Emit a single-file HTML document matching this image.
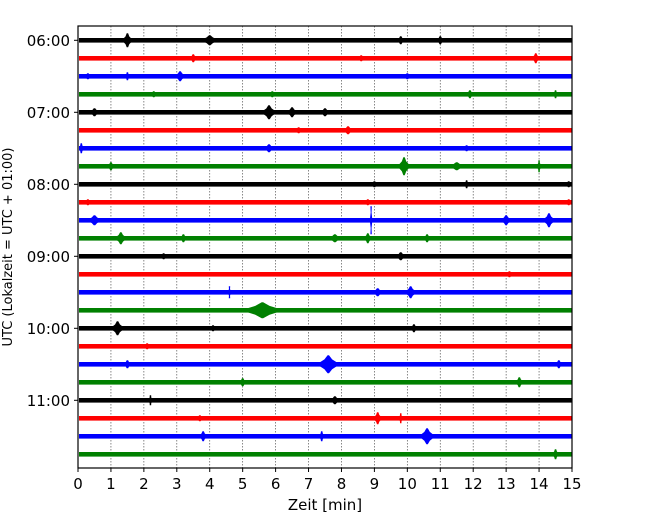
<!DOCTYPE html>
<html><head><meta charset="utf-8"><style>
body{margin:0;background:#fff}
svg{display:block;font-family:"DejaVu Sans","Liberation Sans",sans-serif}
</style></head><body>
<svg id="chart" width="650" height="520" xmlns="http://www.w3.org/2000/svg">
<g id="grid"></g>
<g id="traces"></g>
<rect x="78" y="26" width="494" height="442" fill="none" stroke="#000" stroke-width="1.2"/>
<g id="xticks"></g>
<g id="yticks"></g>
<text x="325" y="510" font-size="15" text-anchor="middle">Zeit  [min]</text>
<text transform="translate(12,247) rotate(-90)" font-size="13" text-anchor="middle">UTC (Lokalzeit = UTC + 01:00)</text>
</svg>
<script>
const xTicks=[0,1,2,3,4,5,6,7,8,9,10,11,12,13,14,15];
const hourLabels=["06:00","07:00","08:00","09:00","10:00","11:00"];
const traceColors=["#000000","#ff0000","#0000ff","#008000"];
const traceCount=24;
// events: [trace index, minute, half-amplitude (px), duration (min)]
const events=[
[0,1.5,7,0.35],[0,4.0,5,0.6],[0,9.8,4,0.3],[0,11.0,4,0.3],
[1,3.5,4,0.3],[1,8.6,3,0.3],[1,13.9,5,0.3],
[2,0.3,3,0.3],[2,1.5,4,0.2],[2,3.1,5,0.4],[2,10.0,3,0.3],
[3,2.3,3,0.3],[3,5.9,3,0.3],[3,11.9,4,0.3],[3,14.5,4,0.2],
[4,0.5,4,0.4],[4,5.8,7,0.5],[4,6.5,5,0.4],[4,7.5,4,0.4],
[5,6.7,3,0.3],[5,8.2,4,0.4],
[6,0.1,5,0.2],[6,5.8,4,0.4],[6,11.8,3,0.3],
[7,1.0,4,0.3],[7,9.9,9,0.4],[7,11.5,4,0.6],[7,14.0,6,0.15],
[8,9.0,3,0.3],[8,11.8,4,0.2],[8,14.9,3,0.3],
[9,0.3,3,0.3],[9,8.8,3,0.3],[9,14.9,3,0.3],
[10,0.5,5,0.5],[10,8.9,14,0.08],[10,13.0,5,0.4],[10,14.3,7,0.4],
[11,1.3,6,0.4],[11,3.2,4,0.3],[11,7.8,4,0.5],[11,8.8,5,0.3],[11,10.6,4,0.3],
[12,2.6,3,0.3],[12,9.8,4,0.4],
[13,13.1,3,0.3],
[14,4.6,6,0.1],[14,9.1,4,0.4],[14,10.1,6,0.4],
[15,5.6,8,1.3],
[16,1.2,7,0.45],[16,4.1,3,0.3],[16,10.2,4,0.3],
[17,2.1,3,0.3],
[18,1.5,4,0.3],[18,7.6,9,0.7],[18,14.6,4,0.3],
[19,5.0,4,0.3],[19,13.4,5,0.3],
[20,2.2,5,0.15],[20,7.8,4,0.4],
[21,3.7,3,0.3],[21,9.1,6,0.3],[21,9.8,5,0.15],
[22,3.8,5,0.3],[22,7.4,5,0.2],[22,10.6,8,0.5],
[23,14.5,5,0.25]
];
const NS="http://www.w3.org/2000/svg";
const X0=78,X1=572,Y0=40.3,DY=18;
const xs=m=>X0+(X1-X0)*m/15;
const ys=i=>Y0+DY*i;
function mk(t,p,a){const e=document.createElementNS(NS,t);for(const k in a)e.setAttribute(k,a[k]);p.appendChild(e);return e;}
const grid=document.getElementById('grid'),tr=document.getElementById('traces'),xt=document.getElementById('xticks'),yt=document.getElementById('yticks');
xTicks.forEach(m=>{
 if(m>0&&m<15){const g=mk('line',grid,{x1:xs(m),x2:xs(m),y1:26,y2:468,stroke:'#555','stroke-width':0.7,'stroke-dasharray':'1.5,1.5'});
 
 }
 const t=mk('line',xt,{x1:xs(m),x2:xs(m),y1:468,y2:472,stroke:'#000'});
 
 
 const l=mk('text',xt,{x:xs(m),y:489,'font-size':15,'text-anchor':'middle'});l.textContent=m;
 
 
});
hourLabels.forEach((h,k)=>{
 const y=ys(k*4);
 const t=mk('line',yt,{x1:74,x2:78,y1:y,y2:y,stroke:'#000'});
 
 
 const l=mk('text',yt,{x:70,y:y+5.5,'font-size':15,'text-anchor':'end'});l.textContent=h;
 
 
});
for(let i=0;i<traceCount;i++){
 const c=traceColors[i%4];
 const r=mk('rect',tr,{x:X0+1,y:ys(i)-2.3,width:X1-X0-1,height:4.6,fill:c});
 
 
}
events.forEach(ev=>{
 const [i,m,a,d]=ev,c=traceColors[i%4],y=ys(i);
 const x1=Math.max(X0+1,xs(m-d/2)),x2=Math.min(X1,xs(m+d/2)),xm=xs(m);
 const xa=xs(m-d/6),xb=xs(m+d/6),a2=a*0.55;
 const p=mk('polygon',tr,{points:`${x1},${y} ${xa},${y-a2} ${xm-0.7},${y-a} ${xm+0.7},${y-a} ${xb},${y-a2} ${x2},${y} ${xb},${y+a2} ${xm+0.7},${y+a} ${xm-0.7},${y+a} ${xa},${y+a2}`,fill:c});
 
 
});
</script>
</body></html>
